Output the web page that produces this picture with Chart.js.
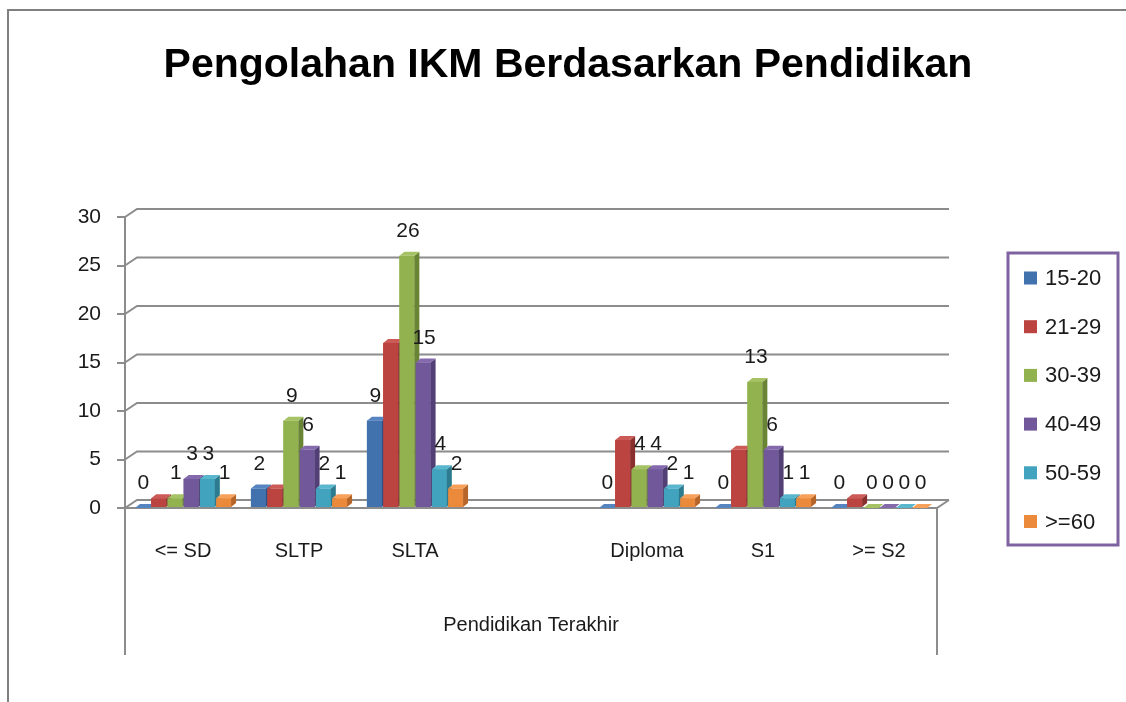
<!DOCTYPE html>
<html>
<head>
<meta charset="utf-8">
<script src="https://cdn.jsdelivr.net/npm/chart.js@4.4.1/dist/chart.umd.min.js"></script>
<style>
  html, body { margin: 0; padding: 0; background: #fff; }
  #wrap { width: 1126px; height: 702px; position: relative; }
</style>
</head>
<body>
<div id="wrap"><canvas id="ikmChart" width="1126" height="702"></canvas></div>
<script>
// chart data
const chartTitle = 'Pengolahan IKM Berdasarkan Pendidikan';
const categories = ['<= SD', 'SLTP', 'SLTA', '', 'Diploma', 'S1', '>= S2'];
const seriesNames = ['15-20', '21-29', '30-39', '40-49', '50-59', '>=60'];
const age15to20 = [0, 2, 9, null, 0, 0, 0];
const age21to29 = [1, 2, 17, null, 7, 6, 1];
const age30to39 = [1, 9, 26, null, 4, 13, 0];
const age40to49 = [3, 6, 15, null, 4, 6, 0];
const age50to59 = [3, 2, 4, null, 2, 1, 0];
const age60plus = [1, 1, 2, null, 1, 1, 0];
const showLabels = [true, false, true, true, true, true];
const yTicks = [0, 5, 10, 15, 20, 25, 30];

const frontColors = ['#4172ad', '#bb4340', '#92b14f', '#71589b', '#41a3bd', '#ec8a3b'];
const sideColors = ['#2c5286', '#8a2f2d', '#6a8436', '#523f75', '#2d7b8f', '#b8652a'];
const topColors = ['#5584c0', '#cc5a57', '#a5c265', '#8569ad', '#58b6cd', '#f7a05a'];

const FONT = "'Liberation Sans', Arial, sans-serif";
const GRID = '#8c8c8c';
const depthX = 12, depthY = 8;   // back wall offset
const barDX = 5, barDY = 4;      // bar 3d offset

const seriesValues = [age15to20, age21to29, age30to39, age40to49, age50to59, age60plus];

// frame, title, back wall and extended axis lines
const wallPlugin = {
    id: 'wall',
    beforeDraw(chart) {
        const ctx = chart.ctx;
        ctx.save();
        ctx.strokeStyle = '#808080';
        ctx.lineWidth = 2;
        ctx.beginPath();
        ctx.moveTo(8, 702);
        ctx.lineTo(8, 10);
        ctx.lineTo(1126, 10);
        ctx.stroke();
        ctx.fillStyle = '#000';
        ctx.font = 'bold 41px ' + FONT;
        ctx.textAlign = 'center';
        ctx.textBaseline = 'alphabetic';
        ctx.fillText(chartTitle, 568, 77);
        ctx.restore();
    },
    beforeDatasetsDraw(chart) {
        const ctx = chart.ctx;
        const area = chart.chartArea;
        const y = chart.scales.y;
        ctx.save();
        ctx.strokeStyle = GRID;
        ctx.lineWidth = 2;
        yTicks.forEach(v => {
            const py = y.getPixelForValue(v);
            ctx.beginPath();
            ctx.moveTo(area.left, py);
            ctx.lineTo(area.left + depthX, py - depthY);
            ctx.lineTo(area.right + depthX, py - depthY);
            ctx.stroke();
        });
        // floor front edge and right corner
        const base = y.getPixelForValue(0);
        ctx.beginPath();
        ctx.moveTo(area.left, base);
        ctx.lineTo(area.right, base);
        ctx.lineTo(area.right + depthX, base - depthY);
        ctx.stroke();
        // category box lines
        ctx.beginPath();
        ctx.moveTo(area.left, base);
        ctx.lineTo(area.left, 655);
        ctx.moveTo(area.right, base);
        ctx.lineTo(area.right, 655);
        ctx.stroke();
        ctx.restore();
    }
};

// 3d faces, value labels and the legend
const bars3dPlugin = {
    id: 'bars3d',
    afterDatasetsDraw(chart) {
        const ctx = chart.ctx;
        ctx.save();
        categories.forEach((c, i) => {
            chart.data.datasets.forEach((ds, d) => {
                const v = ds.data[i];
                if (v === null) return;
                const el = chart.getDatasetMeta(d).data[i];
                const left = el.x - el.width / 2;
                const right = el.x + el.width / 2;
                const top = el.y;
                const base = el.base;
                ctx.fillStyle = frontColors[d];
                ctx.fillRect(left, top, right - left, base - top);
                ctx.fillStyle = sideColors[d];
                ctx.beginPath();
                ctx.moveTo(right, top);
                ctx.lineTo(right + barDX, top - barDY);
                ctx.lineTo(right + barDX, base - barDY);
                ctx.lineTo(right, base);
                ctx.closePath();
                ctx.fill();
                ctx.fillStyle = topColors[d];
                ctx.beginPath();
                ctx.moveTo(left, top);
                ctx.lineTo(left + barDX, top - barDY);
                ctx.lineTo(right + barDX, top - barDY);
                ctx.lineTo(right, top);
                ctx.closePath();
                ctx.fill();
            });
        });
        ctx.fillStyle = '#1a1a1a';
        ctx.font = '21px ' + FONT;
        ctx.textAlign = 'center';
        ctx.textBaseline = 'alphabetic';
        chart.data.datasets.forEach((ds, d) => {
            if (!showLabels[d]) return;
            chart.getDatasetMeta(d).data.forEach((el, i) => {
                const v = ds.data[i];
                if (v === null) return;
                ctx.fillText(String(v), el.x + 1, el.y - 19);
            });
        });
        ctx.restore();
    },
    afterDraw(chart) {
        const ctx = chart.ctx;
        ctx.save();
        ctx.strokeStyle = '#7f62a0';
        ctx.lineWidth = 3;
        ctx.strokeRect(1008, 253, 110, 292);
        ctx.font = '22px ' + FONT;
        ctx.textBaseline = 'middle';
        ctx.textAlign = 'left';
        seriesNames.forEach((name, d) => {
            const cy = 278 + d * 48.7;
            ctx.fillStyle = frontColors[d];
            ctx.fillRect(1024, cy - 6.5, 13, 13);
            ctx.fillStyle = '#1a1a1a';
            ctx.fillText(name, 1045, cy + 1);
        });
        ctx.restore();
    }
};

const ctx = document.getElementById('ikmChart').getContext('2d');
new Chart(ctx, {
    type: 'bar',
    data: {
        labels: categories,
        datasets: seriesNames.map((name, d) => ({
            label: name,
            data: seriesValues[d],
            backgroundColor: frontColors[d],
            borderWidth: 0,
            categoryPercentage: 0.84,
            barPercentage: 0.92
        }))
    },
    options: {
        responsive: false,
        animation: false,
        layout: { padding: { left: 0, right: 189, top: 217, bottom: 0 } },
        plugins: {
            legend: { display: false },
            tooltip: { enabled: false },
            title: { display: false }
        },
        scales: {
            x: {
                grid: { display: false },
                border: { display: false },
                ticks: { color: '#1a1a1a', font: { family: FONT, size: 20 }, padding: 23, maxRotation: 0, autoSkip: false },
                title: {
                    display: true,
                    text: 'Pendidikan Terakhir',
                    color: '#1a1a1a',
                    font: { family: FONT, size: 20 },
                    padding: { top: 0, bottom: 65 }
                },
                afterFit: s => { s.height = 194; }
            },
            y: {
                min: 0,
                max: 30,
                afterBuildTicks: s => { s.ticks = yTicks.map(v => ({ value: v })); },
                afterFit: s => { s.width = 125; },
                grid: { drawOnChartArea: false, drawTicks: true, tickLength: 8, color: GRID, lineWidth: 2 },
                border: { display: true, color: GRID, width: 2 },
                ticks: { color: '#1a1a1a', font: { family: FONT, size: 21 }, padding: 16 }
            }
        }
    },
    plugins: [wallPlugin, bars3dPlugin]
});
</script>
</body>
</html>
